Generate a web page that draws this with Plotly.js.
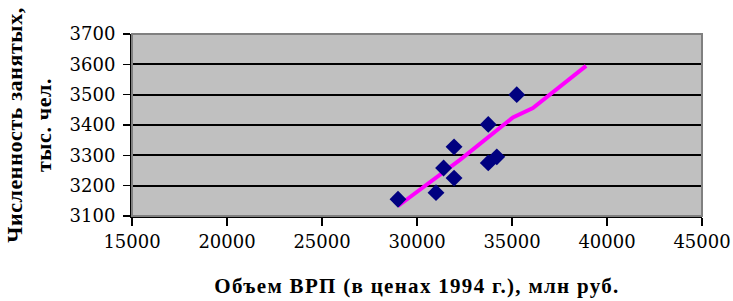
<!DOCTYPE html>
<html>
<head>
<meta charset="utf-8">
<script src="https://cdn.plot.ly/plotly-3.0.1.min.js"></script>
<style>
html,body{margin:0;padding:0;background:#fff;}
#chart{width:733px;height:301px;}
#chart .xtitle{letter-spacing:1.3px;}
#chart .ytitle{letter-spacing:0.6px;}
</style>
</head>
<body>
<div id="chart"></div>
<script>
// Observed points: ВРП (млн руб.) vs численность занятых (тыс. чел.)
const grpValues = [29000, 31000, 31400, 31950, 31950, 33750, 33750, 34200, 35250];
const employedValues = [3155, 3177, 3258, 3225, 3328, 3402, 3275, 3295, 3500];
// Trend line points
const trendX = [29000, 32260, 35050, 36100, 38900];
const trendY = [3133, 3285, 3425, 3456, 3595];
const xTicks = [15000, 20000, 25000, 30000, 35000, 40000, 45000];
const yTicks = [3100, 3200, 3300, 3400, 3500, 3600, 3700];

const titleFont = "Liberation Serif";
const tickFontFamily = "DejaVu Serif";

const data = [
  {
    x: trendX, y: trendY, mode: 'lines', type: 'scatter',
    line: {color: '#FF00FF', width: 4}, hoverinfo: 'none', showlegend: false
  },
  {
    x: grpValues, y: employedValues, mode: 'markers', type: 'scatter',
    marker: {symbol: 'diamond', size: 13, color: '#000080'}, showlegend: false
  }
];

const layout = {
  width: 733, height: 301,
  margin: {l: 132, r: 31, t: 34, b: 85},
  paper_bgcolor: '#ffffff',
  plot_bgcolor: '#C0C0C0',
  font: {family: titleFont, size: 20, color: '#000'},
  showlegend: false,
  xaxis: {
    range: [15000, 45000], tickvals: xTicks, ticktext: xTicks.map(String),
    showgrid: false, zeroline: false,
    showline: true, linecolor: '#000', linewidth: 2,
    ticks: 'outside', ticklen: 8, tickwidth: 1.5, tickcolor: '#000',
    tickfont: {family: tickFontFamily, size: 18},
    title: {text: 'Объем ВРП (в ценах 1994 г.), млн руб.', font: {family: titleFont, size: 21, weight: 'bold'}, standoff: 28}
  },
  yaxis: {
    range: [3100, 3700], tickvals: yTicks, ticktext: yTicks.map(String),
    showgrid: true, gridcolor: '#000', gridwidth: 2,
    zeroline: false, showline: true, linecolor: '#000', linewidth: 2,
    ticks: 'outside', ticklen: 7, tickwidth: 1.5, tickcolor: '#000',
    ticklabelstandoff: 4,
    tickfont: {family: tickFontFamily, size: 18},
    title: {text: 'Численность занятых,<br>тыс. чел.', font: {family: titleFont, size: 22, weight: 'bold'}, standoff: 12}
  },
  shapes: [
    {type: 'rect', xref: 'paper', yref: 'paper', x0: 0, x1: 1, y0: 0, y1: 1,
     line: {color: '#808080', width: 2}, layer: 'above'}
  ]
};

Plotly.newPlot('chart', data, layout, {staticPlot: true, displayModeBar: false});
</script>
</body>
</html>
